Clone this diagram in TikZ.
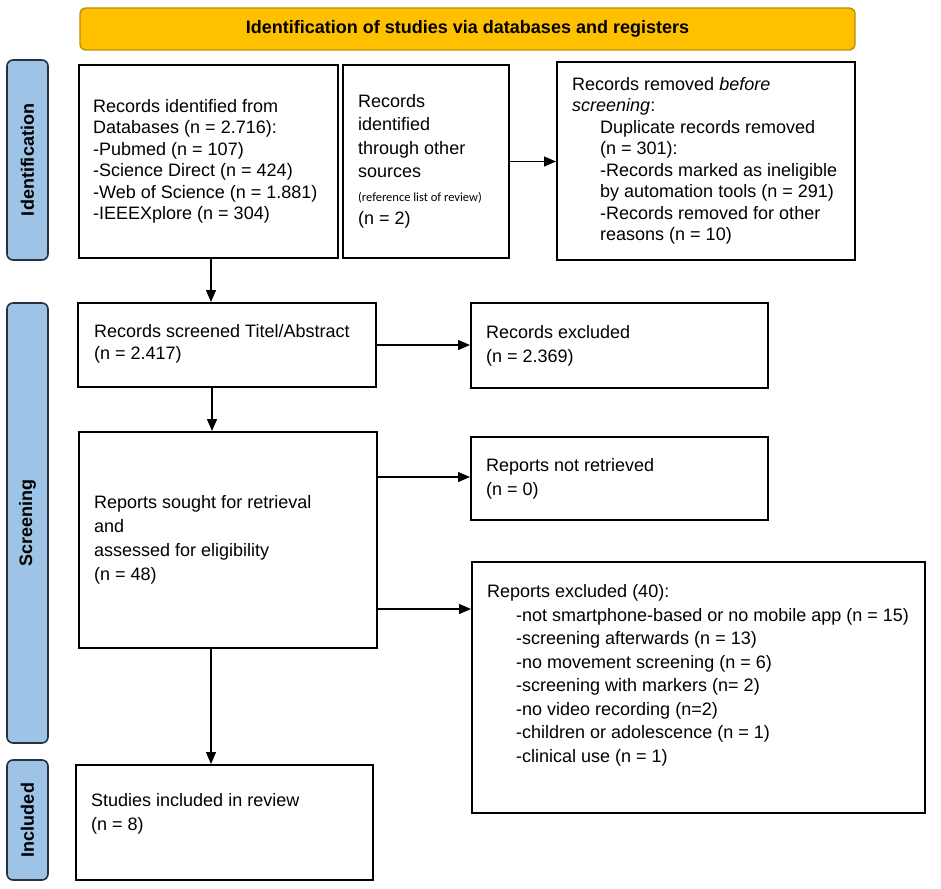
\documentclass[tikz,border=0pt]{standalone}
\usepackage{fontspec}
\setmainfont{Liberation Sans}
\newfontfamily\smallfont{Carlito}
\usetikzlibrary{arrows.meta,calc}
\definecolor{bannerfill}{HTML}{FFC000}
\definecolor{bannerdraw}{HTML}{B8900A}
\definecolor{sidefill}{HTML}{9DC3E6}
\definecolor{sidedraw}{HTML}{263140}
\begin{document}
\begin{tikzpicture}[x=1pt,y=-1pt,
  box/.style={draw=black, line width=2pt, inner sep=0pt},
  txt/.style={anchor=west, align=left, inner sep=0pt, font=\fontsize{18}{23.5}\selectfont},
  tight/.style={font=\fontsize{18}{21.5}\selectfont},
  wide/.style={font=\fontsize{18}{24}\selectfont},
  arr/.style={line width=1.3pt, -{Triangle[length=12pt,width=10pt]}},
  side/.style={draw=sidedraw, fill=sidefill, line width=1.6pt, rounded corners=6pt, rotate=90,
    font=\bfseries\fontsize{18}{20}\selectfont, inner sep=0pt, minimum height=41pt},
  banner/.style={draw=bannerdraw, fill=bannerfill, line width=1.4pt, rounded corners=6pt,
    font=\bfseries\fontsize{18}{20}\selectfont, inner sep=0pt}]
\useasboundingbox (0,0) rectangle (941,888);

% banner
\node[banner, minimum width=775pt, minimum height=42pt] (ban) at (467.5,29) {Identification of studies via databases and registers};

% side labels
\node[side, minimum width=200pt] (sid) at (27.5,160) {Identification};
\node[side, minimum width=440pt] (sscr) at (27.5,523) {Screening};
\node[side, minimum width=120pt] (sinc) at (27.5,820) {Included};

% boxes
\node[box, minimum width=259pt, minimum height=193pt] (A) at (208.5,161.5) {};
\node[box, minimum width=166pt, minimum height=193pt] (B) at (426,161.5) {};
\node[box, minimum width=298pt, minimum height=198pt] (C) at (706,161) {};
\node[box, minimum width=298pt, minimum height=84pt] (D) at (227,345) {};
\node[box, minimum width=297pt, minimum height=85pt] (E) at (619.5,345.5) {};
\node[box, minimum width=298pt, minimum height=216pt] (F) at (228,540) {};
\node[box, minimum width=297pt, minimum height=83pt] (G) at (619.5,478.5) {};
\node[box, minimum width=453pt, minimum height=251pt] (H) at (698.5,687.5) {};
\node[box, minimum width=297pt, minimum height=115pt] (I) at (224.5,822.5) {};

% texts
\node[txt, tight] (At) at ([xshift=15pt]A.west) {Records identified from\\Databases (n = 2.716):\\-Pubmed (n = 107)\\-Science Direct (n = 424)\\-Web of Science (n = 1.881)\\-IEEEXplore (n = 304)};
\node[txt] (Bt) at ([xshift=16pt]B.west) {Records\\identified\\through other\\sources\\{\smallfont\fontsize{12.5}{13}\selectfont (reference list of review)}\\(n = 2)};
\node[txt, tight] (Ct) at ([xshift=16pt]C.west) {Records removed \textit{before}\\\textit{screening}:\\
\hspace*{28pt}Duplicate records removed\\
\hspace*{28pt}(n = 301):\\
\hspace*{28pt}-Records marked as ineligible\\
\hspace*{28pt}by automation tools (n = 291)\\
\hspace*{28pt}-Records removed for other\\
\hspace*{28pt}reasons (n = 10)};
\node[txt, font=\fontsize{18}{22}\selectfont] (Dt) at ([xshift=17pt,yshift=1pt]D.west) {Records screened Titel/Abstract\\(n = 2.417)};
\node[txt, wide] (Et) at ([xshift=16pt]E.west) {Records excluded\\(n = 2.369)};
\node[txt, wide] (Ft) at ([xshift=16pt]F.west) {Reports sought for retrieval\\and\\assessed for eligibility\\(n = 48)};
\node[txt, wide] (Gt) at ([xshift=16pt]G.west) {Reports not retrieved\\(n = 0)};
\node[txt] (Ht) at ([xshift=16pt,yshift=12pt]H.west) {Reports excluded (40):\\
\hspace*{29pt}-not smartphone-based or no mobile app (n = 15)\\
\hspace*{29pt}-screening afterwards (n = 13)\\
\hspace*{29pt}-no movement screening (n = 6)\\
\hspace*{29pt}-screening with markers (n= 2)\\
\hspace*{29pt}-no video recording (n=2)\\
\hspace*{29pt}-children or adolescence (n = 1)\\
\hspace*{29pt}-clinical use (n = 1)};
\node[txt, wide] (It) at ([xshift=16pt,yshift=9pt]I.west) {Studies included in review\\(n = 8)};

% connectors
\draw[arr] (B.east) -- (B.east -| C.west);
\draw[arr] ([xshift=2.5pt]A.south) -- ([xshift=2.5pt]A.south |- D.north);
\draw[arr] (D.east) -- (D.east -| E.west);
\draw[arr] ([xshift=-15pt]D.south) -- ([xshift=-15pt]D.south |- F.north);
\draw[arr] ([yshift=63pt]F.east) -- ([yshift=63pt]F.east -| G.west);
\draw[arr] ([yshift=-69pt]F.east) -- ([yshift=-69pt]F.east -| H.west);
\draw[arr] ([xshift=-17pt]F.south) -- ([xshift=-17pt]F.south |- I.north);
\end{tikzpicture}
\end{document}
